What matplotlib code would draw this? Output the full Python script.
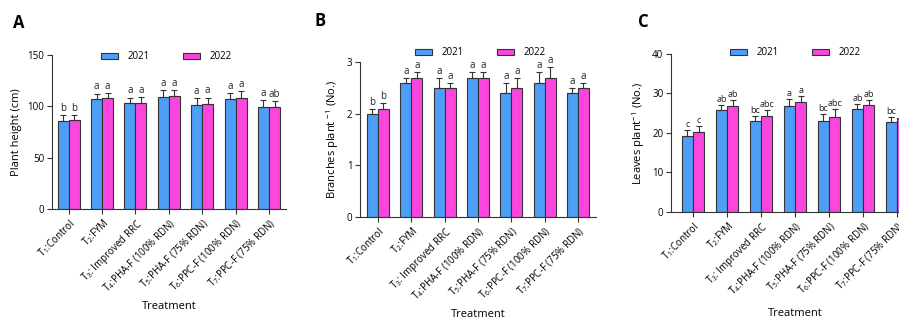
import numpy as np
import matplotlib
matplotlib.use('Agg')
import matplotlib.pyplot as plt

plt.rcParams.update({'font.family': ['Open Sans', 'DejaVu Sans'], 'font.size': 7,
                     'mathtext.default': 'regular'})

treatments = ['T$_1$:Control', 'T$_2$:FYM', 'T$_3$: Improved RRC', 'T$_4$:PHA-F (100% RDN)',
              'T$_5$:PHA-F (75% RDN)', 'T$_6$:PPC-F (100% RDN)', 'T$_7$:PPC-F (75% RDN)']
years = ['2021', '2022']

height_2021 = [85.4, 107.3, 102.8, 109.3, 101.2, 107.3, 99.6]
height_2022 = [86.6, 108.0, 103.1, 109.9, 102.5, 108.3, 99.6]
height_err_2021 = [5.8, 5.2, 5.8, 6.4, 6.8, 5.9, 6.4]
height_err_2022 = [4.9, 4.8, 5.9, 6.1, 6.1, 6.2, 5.2]
height_let_2021 = ['b', 'a', 'a', 'a', 'a', 'a', 'a']
height_let_2022 = ['b', 'a', 'a', 'a', 'a', 'a', 'ab']

branch_2021 = [2.0, 2.6, 2.5, 2.7, 2.4, 2.6, 2.4]
branch_2022 = [2.1, 2.7, 2.5, 2.7, 2.5, 2.7, 2.5]
branch_err_2021 = [0.1, 0.1, 0.2, 0.1, 0.2, 0.2, 0.1]
branch_err_2022 = [0.1, 0.1, 0.1, 0.1, 0.2, 0.2, 0.1]
branch_let_2021 = ['b', 'a', 'a', 'a', 'a', 'a', 'a']
branch_let_2022 = ['b', 'a', 'a', 'a', 'a', 'a', 'a']

leaves_2021 = [19.2, 25.8, 23.0, 26.9, 22.9, 26.0, 22.7]
leaves_2022 = [20.3, 26.8, 24.2, 27.9, 24.1, 27.0, 23.8]
leaves_err_2021 = [1.5, 1.4, 1.3, 1.6, 1.8, 1.4, 1.3]
leaves_err_2022 = [1.4, 1.5, 1.5, 1.4, 2.0, 1.4, 1.4]
leaves_let_2021 = ['c', 'ab', 'bc', 'a', 'bc', 'ab', 'bc']
leaves_let_2022 = ['c', 'ab', 'abc', 'a', 'abc', 'ab', 'bc']

colors = ['#4d9ef7', '#fb45dc']
width = 0.33


def panel(ax, vals, errs, lets, ylim, yticks, ylabel, letter, letter_xy, xlim, leg_xy,
          tick_off, pad, let_size=7):
    x = np.arange(len(treatments))
    for k in range(2):
        pos = x + (k - 0.5) * width
        ax.bar(pos, vals[k], width, color=colors[k], edgecolor='#333333', lw=0.8,
               label=years[k], zorder=2)
        ax.errorbar(pos, vals[k], yerr=[np.zeros(len(x)), errs[k]], fmt='none',
                    ecolor='#333333', elinewidth=0.8, capsize=2.5, capthick=0.8, zorder=3)
        for p, v, e, t in zip(pos, vals[k], errs[k], lets[k]):
            ax.text(p, v + e + tick_off, t, ha='center', va='bottom', fontsize=let_size,
                    color='#222222')
    ax.set_xlim(*xlim)
    ax.set_ylim(*ylim)
    ax.set_yticks(yticks)
    ax.set_xticks(x)
    ax.set_xticklabels(treatments, rotation=45, ha='right', rotation_mode='anchor')
    for s in ['top', 'right']:
        ax.spines[s].set_visible(False)
    for s in ['left', 'bottom']:
        ax.spines[s].set_color('#333333')
        ax.spines[s].set_linewidth(0.8)
    ax.tick_params(length=3.5, width=0.8, color='#333333', pad=2)
    ax.set_ylabel(ylabel, fontsize=8)
    ax.set_xlabel('Treatment', fontsize=8, labelpad=pad)
    ax.legend(loc='center', bbox_to_anchor=leg_xy, ncol=2, frameon=False,
              handlelength=1.75, handleheight=0.6, handletextpad=1.0, columnspacing=3.4)
    ax.text(*letter_xy, letter, transform=ax.transAxes, fontsize=12, fontweight='bold',
            ha='center', va='center')


fig = plt.figure(figsize=(8.99, 3.2), dpi=100)
axA = fig.add_axes([0.0578, 0.347, 0.26, 0.481])
axB = fig.add_axes([0.4004, 0.322, 0.2625, 0.484])
axC = fig.add_axes([0.7464, 0.3375, 0.276, 0.494])

panel(axA, [height_2021, height_2022], [height_err_2021, height_err_2022],
      [height_let_2021, height_let_2022], (0, 150), [0, 50, 100, 150],
      'Plant height (cm)', 'A', (-0.14, 1.21), (-0.5, 6.5), (0.49, 0.99), 1.0, 4)
panel(axB, [branch_2021, branch_2022], [branch_err_2021, branch_err_2022],
      [branch_let_2021, branch_let_2022], (0, 3), [0, 1, 2, 3],
      'Branches plant $^{-1}$ (No.)', 'B', (-0.17, 1.265), (-0.54, 6.54), (0.51, 1.06), 0.02, 4)
panel(axC, [leaves_2021, leaves_2022], [leaves_err_2021, leaves_err_2022],
      [leaves_let_2021, leaves_let_2022], (0, 40), [0, 10, 20, 30, 40],
      'Leaves plant$^{-1}$ (No.)', 'C', (-0.113, 1.2), (-0.65, 6.65), (0.5, 1.006), 0.25, 7,
      let_size=6.5)

fig.savefig('out.png', dpi=100)
